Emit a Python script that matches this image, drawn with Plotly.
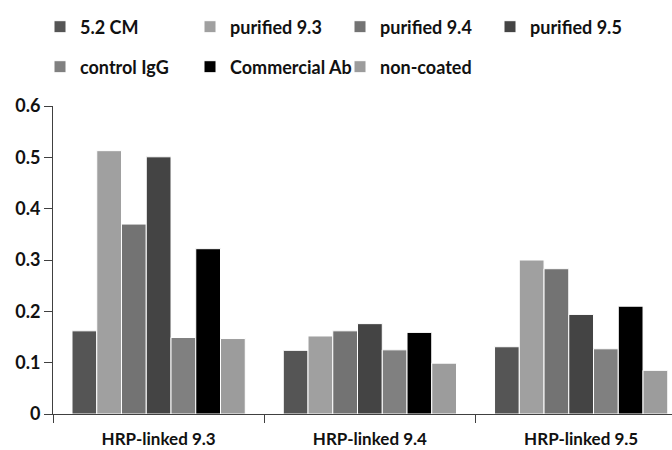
import plotly.graph_objects as go

categories = ["HRP-linked 9.3", "HRP-linked 9.4", "HRP-linked 9.5"]
series_names = ["5.2 CM", "purified 9.3", "purified 9.4", "purified 9.5",
                "control IgG", "Commercial Ab", "non-coated"]
cm52 = [0.162, 0.124, 0.131]
pur93 = [0.513, 0.152, 0.300]
pur94 = [0.370, 0.162, 0.283]
pur95 = [0.501, 0.176, 0.194]
ctrl_igg = [0.149, 0.125, 0.127]
commercial = [0.322, 0.159, 0.210]
noncoated = [0.147, 0.099, 0.085]
series_values = [cm52, pur93, pur94, pur95, ctrl_igg, commercial, noncoated]
colors = ["#555555", "#a0a0a0", "#737373", "#444444", "#808080", "#000000", "#9c9c9c"]
y_ticks = [0, 0.1, 0.2, 0.3, 0.4, 0.5, 0.6]
y_ticklabels = ["0", "0.1", "0.2", "0.3", "0.4", "0.5", "0.6"]

FONT = "Lato, 'Open Sans', sans-serif"

fig = go.Figure()
for i, (name, vals, col) in enumerate(zip(series_names, series_values, colors)):
    fig.add_trace(go.Bar(
        x=categories, y=vals, name=name,
        marker=dict(color=col, line=dict(color="white", width=1)),
        legend="legend" if i < 4 else "legend2",
    ))

legend_common = dict(
    orientation="h", xref="container", yref="container",
    xanchor="left", yanchor="middle",
    font=dict(family=FONT, size=18, color="#111111", weight="bold"),
    entrywidth=105, entrywidthmode="pixels",
    itemwidth=30, bgcolor="rgba(0,0,0,0)", borderwidth=0,
    traceorder="normal",
)

fig.update_layout(
    width=672, height=450,
    paper_bgcolor="white", plot_bgcolor="white",
    margin=dict(l=53, r=0, t=106, b=36, autoexpand=False),
    barmode="group", bargap=0.18, bargroupgap=0,
    font=dict(family=FONT, size=15, color="#111111", weight="bold"),
    legend=dict(x=40/672, y=1 - 27/450, **legend_common),
    legend2=dict(x=40/672, y=1 - 67/450, **legend_common),
    xaxis=dict(
        range=[-0.5, 2.43], showline=True, linecolor="#404040", linewidth=1,
        ticks="outside", tickson="boundaries", ticklen=8, tickcolor="#404040",
        showgrid=False, zeroline=False, ticklabelstandoff=10,
        tickfont=dict(family=FONT, size=17, color="#111111", weight="bold"),
    ),
    yaxis=dict(
        range=[0, 0.6], tickvals=y_ticks, ticktext=y_ticklabels,
        showline=True, linecolor="#404040", linewidth=1,
        ticks="outside", ticklen=8, tickcolor="#404040",
        showgrid=False, zeroline=False,
        tickfont=dict(family=FONT, size=18, color="#111111", weight="bold"),
    ),
)

fig.write_html("out.html", config={"displayModeBar": False},
               post_script="document.body.style.margin='0';")
